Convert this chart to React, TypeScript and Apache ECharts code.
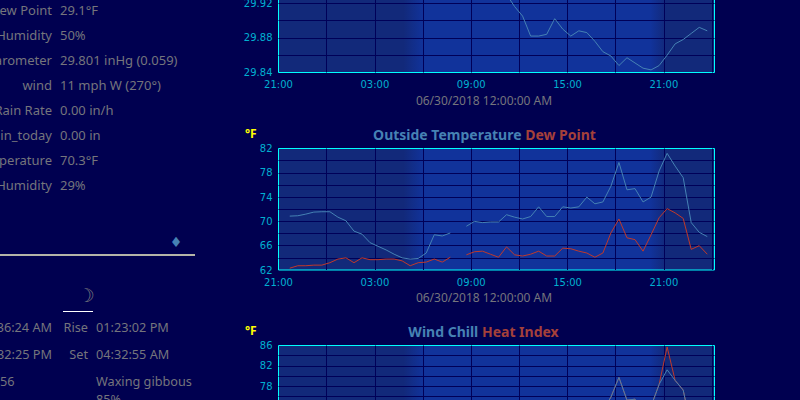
import React, { useEffect, useRef } from "react";
import * as echarts from "echarts";

const hours = [0.7,1.2,1.7,2.2,2.7,3.2,3.7,4.2,4.7,5.2,5.7,6.2,6.7,7.2,7.7,8.2,8.7,9.2,9.7,10.2,10.7,11.2,11.7,12.2,12.7,13.2,13.7,14.2,14.7,15.2,15.7,16.2,16.7,17.2,17.7,18.2,18.7,19.2,19.7,20.2,20.7,21.2,21.7,22.2,22.7,23.2,23.7,24.2,24.7,25.2,25.7,26.2,26.7];

const outsideTemp = [70.87,70.93,71.2,71.53,71.59,71.59,70.7,70.1,68.4,67.9,66.5,65.9,65.3,64.6,64.0,63.8,63.9,64.8,67.8,67.6,68.1,null,69.2,70.0,69.8,69.9,69.9,71.1,70.7,70.4,70.8,72.4,70.8,70.8,72.4,72.2,72.4,74.0,72.9,73.2,75.8,79.7,75.2,75.4,73.2,74.0,78.3,81.2,79.1,77.2,69.8,68.2,67.5];
const dewPoint = [62.3,62.7,62.7,62.8,62.8,63.2,63.8,64.0,63.2,64.0,63.7,63.7,63.8,63.8,63.5,62.7,63.2,63.3,63.8,63.3,64.1,null,64.5,65.0,65.1,64.6,64.1,65.8,64.5,64.3,64.6,65.1,64.3,64.3,65.6,65.5,65.1,64.8,64.1,64.8,68.1,70.4,67.3,67.0,65.1,67.8,70.6,72.1,71.4,70.5,65.4,66.0,64.6];
const heatIndex = [70.87,70.93,71.2,71.53,71.59,71.59,70.7,70.1,68.4,67.9,66.5,65.9,65.3,64.6,64.0,63.8,63.9,64.8,67.8,67.6,68.1,null,69.2,70.0,69.8,69.9,69.9,71.1,70.7,70.4,70.8,72.4,70.8,70.8,72.4,72.2,72.4,74.0,72.9,73.2,75.8,79.7,75.2,75.4,73.2,74.0,78.3,85.7,79.1,77.2,69.8,68.2,67.5];
const barometer = [null,null,null,null,null,null,null,null,null,null,null,null,null,null,null,null,null,null,null,null,null,null,null,null,null,null,null,29.93,29.916,29.905,29.882,29.882,29.884,29.902,29.89,29.882,29.888,29.886,29.876,29.864,29.859,29.848,29.857,29.851,29.845,29.843,29.848,29.86,29.873,29.878,29.885,29.892,29.888];

const xTickLabels = ["21:00", "03:00", "09:00", "15:00", "21:00"];
const leftLabels = ["Dew Point", "Humidity", "Barometer", "wind", "Rain Rate", "Rain_today", "Temperature", "Humidity"];
const leftValues = ["29.1°F", "50%", "29.801 inHg (0.059)", "11 mph W (270°)", "0.00 in/h", "0.00 in", "70.3°F", "29%"];
const dateLabel = "06/30/2018 12:00:00 AM";

const FONT = "'Noto Sans', 'Open Sans', sans-serif";
const GREY = "#75757c";
const BLUE = "#4682b4";
const RED = "#c0392b";
const AXIS = "#00b0d0";

function pair(values: (number | null)[]) {
  return hours.map((h, i) => [h, values[i]]);
}

export default function App() {
  const ref = useRef<HTMLDivElement>(null);
  useEffect(() => {
    const chart = echarts.init(ref.current!, null, { renderer: "svg" });
    const bg = new echarts.graphic.LinearGradient(0, 0, 1, 0, [
      { offset: 0, color: "#12297a" },
      { offset: 0.287, color: "#12297a" },
      { offset: 0.333, color: "#11339b" },
      { offset: 0.853, color: "#11339b" },
      { offset: 0.888, color: "#12297a" },
      { offset: 1, color: "#12297a" },
    ]);
    const tops = [-49, 148.5, 345.5];
    const yAxes = [
      { min: 29.84, max: 29.98, interval: 0.02, dec: 2, every: 0.04 },
      { min: 62, max: 82, interval: 2, dec: 0, every: 4 },
      { min: 62, max: 86, interval: 2, dec: 0, every: 4 },
    ];
    const titleRich = (c: string) => ({ fontFamily: FONT, fontSize: 14, fontWeight: "bold" as const, color: c });
    const texts: any[] = [];
    leftLabels.forEach((t, i) => {
      const y = 10 + i * 25;
      texts.push({ type: "text", x: 52, y, style: { text: t, fill: GREY, font: `13px ${FONT}`, textAlign: "right", textVerticalAlign: "middle" } });
      texts.push({ type: "text", x: 60, y, style: { text: leftValues[i], fill: GREY, font: `13px ${FONT}`, textAlign: "left", textVerticalAlign: "middle" } });
    });
    const LOW = `12.7px ${FONT}`;
    const add = (text: string, x: number, y: number, align = "left", font = LOW, fill = GREY) =>
      texts.push({ type: "text", x, y, style: { text, fill, font, textAlign: align, textVerticalAlign: "middle" } });
    add("05:36:24 AM", 52, 327, "right");
    add("08:32:25 PM", 52, 354, "right");
    add("56", 0, 381);
    add("Rise", 88, 327, "right");
    add("Set", 88, 354, "right");
    add("01:23:02 PM", 96, 327);
    add("04:32:55 AM", 96, 354);
    add("Waxing gibbous", 96, 381);
    add("85%", 96, 399);
    add("☽", 86, 295, "center", `19px 'DejaVu Sans', sans-serif`);
    add("♦", 176, 242, "center", `14px 'DejaVu Sans', sans-serif`, BLUE);
    texts.push({ type: "rect", shape: { x: 0, y: 254, width: 195, height: 2 }, style: { fill: "#b4b4a8" } });
    texts.push({ type: "rect", shape: { x: 63, y: 311, width: 30, height: 1 }, style: { fill: "#ffffff" } });
    add("°F", 245, 133, "left", `bold 12px ${FONT}`, "#ffff00");
    add("°F", 245, 330, "left", `bold 12px ${FONT}`, "#ffff00");
    add(dateLabel, 484, 100.5, "center", `12px ${FONT}`);
    add(dateLabel, 484, 297.5, "center", `12px ${FONT}`);

    chart.setOption({
      animation: false,
      backgroundColor: "#000050",
      title: [
        { text: "{a|Outside Temperature }{b|Dew Point}", left: 479.5, top: 122, textAlign: "center",
          textStyle: { rich: { a: titleRich(BLUE), b: titleRich("#a5403a") } } },
        { text: "{a|Wind Chill }{b|Heat Index}", left: 478.5, top: 319, textAlign: "center",
          textStyle: { rich: { a: titleRich(BLUE), b: titleRich("#a5403a") } } },
      ],
      graphic: texts,
      grid: tops.map((top) => ({ show: true, left: 278.5, top, width: 436, height: 121.5, backgroundColor: bg, borderColor: "#00ffff", borderWidth: 1, containLabel: false, outerBoundsMode: "none" })),
      xAxis: tops.map((_, i) => ({
        type: "value", gridIndex: i, min: 0, max: 27.15, interval: 3,
        axisLine: { show: false }, axisTick: { show: false },
        splitLine: { show: true, showMinLine: false, showMaxLine: false, lineStyle: { color: "#000058", width: 1 } },
        axisLabel: {
          color: AXIS, fontFamily: "'DejaVu Sans', sans-serif", fontSize: 10, margin: 7, showMaxLabel: false, showMinLabel: true,
          formatter: (v: number) => (Math.abs(v % 6) < 1e-6 ? xTickLabels[Math.round(v / 6)] ?? "" : ""),
        },
      })),
      yAxis: yAxes.map((a, i) => ({
        type: "value", gridIndex: i, min: a.min, max: a.max, interval: a.interval,
        axisLine: { show: false }, axisTick: { show: false },
        splitLine: { show: true, showMinLine: false, showMaxLine: false, lineStyle: { color: "#000058", width: 1 } },
        axisLabel: {
          color: AXIS, fontFamily: "'DejaVu Sans', sans-serif", fontSize: 10, margin: 6,
          formatter: (v: number) => {
            const k = (v - a.min) / a.every;
            return Math.abs(k - Math.round(k)) < 1e-6 ? v.toFixed(a.dec) : "";
          },
        },
      })),
      series: [
        { type: "line", name: "Barometer", xAxisIndex: 0, yAxisIndex: 0, data: pair(barometer), showSymbol: false, lineStyle: { color: BLUE, width: 1 }, connectNulls: false },
        { type: "line", name: "Dew Point", xAxisIndex: 1, yAxisIndex: 1, data: pair(dewPoint), showSymbol: false, lineStyle: { color: RED, width: 1 } },
        { type: "line", name: "Outside Temperature", xAxisIndex: 1, yAxisIndex: 1, data: pair(outsideTemp), showSymbol: false, lineStyle: { color: BLUE, width: 1 } },
        { type: "line", name: "Heat Index", xAxisIndex: 2, yAxisIndex: 2, data: pair(heatIndex), showSymbol: false, lineStyle: { color: RED, width: 1 } },
        { type: "line", name: "Wind Chill", xAxisIndex: 2, yAxisIndex: 2, data: pair(outsideTemp), showSymbol: false, lineStyle: { color: BLUE, width: 1 } },
      ],
    });
    return () => chart.dispose();
  }, []);
  return <div ref={ref} style={{ position: "fixed", left: 0, top: 0, width: 800, height: 400 }} />;
}
